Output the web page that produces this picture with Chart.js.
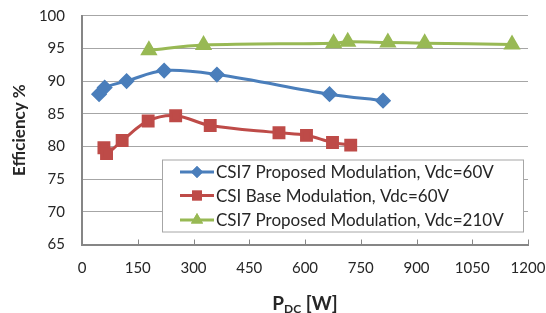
<!DOCTYPE html>
<html><head><meta charset="utf-8">
<script src="https://cdn.jsdelivr.net/npm/chart.js@4/dist/chart.umd.min.js"></script>
<style>html,body{margin:0;padding:0;background:#fff}#wrap{width:546px;height:313px;position:relative}</style>
</head><body><div id="wrap"><canvas id="c" width="546" height="313"></canvas></div>
<script>
const seriesLabels = ["CSI7 Proposed Modulation, Vdc=60V","CSI Base Modulation, Vdc=60V","CSI7 Proposed Modulation, Vdc=210V"];
const blueX = [46, 61, 120, 221, 363, 666, 810];
const blueY = [88.0, 89.0, 90.0, 91.6, 91.0, 88.0, 87.0];
const redX = [59, 66, 108, 178, 252, 345, 530, 604, 674, 723];
const redY = [79.8, 78.9, 80.9, 83.9, 84.7, 83.2, 82.1, 81.7, 80.6, 80.2];
const greenX = [180, 327, 677, 715, 823, 922, 1157];
const greenY = [94.7, 95.5, 95.8, 96.0, 95.9, 95.8, 95.6];
const xTicks = [0,150,300,450,600,750,900,1050,1200];
const yTicks = [65,70,75,80,85,90,95,100];
const colors = ["#4A7EBB","#BE4B48","#98B954"];
const shapes = ["rectRot","rect","triangle"];
const radii = [6,7,7];

function pts(xs, ys){ return xs.map((x,i)=>({x:x,y:ys[i]})); }
const sets = [pts(blueX,blueY), pts(redX,redY), pts(greenX,greenY)];

const FONT = "Lato, 'Open Sans', sans-serif";

const legendPlugin = {
  id:'boxLegend',
  beforeDatasetsDraw(chart){
    const ctx=chart.ctx, xs=chart.scales.x, ca=chart.chartArea;
    ctx.save();
    ctx.strokeStyle="#868686"; ctx.lineWidth=1;
    xTicks.forEach(v=>{
      if(v===0) return;
      const px=Math.round(xs.getPixelForValue(v))+0.5;
      ctx.beginPath(); ctx.moveTo(px,ca.bottom); ctx.lineTo(px,ca.bottom-5); ctx.stroke();
    });
    ctx.restore();
  },
  afterDraw(chart){
    const ctx = chart.ctx;
    const L=162, T=159.5, R=524, B=232.5;
    ctx.save();
    ctx.fillStyle="#fff";
    ctx.fillRect(L,T,R-L,B-T);
    ctx.strokeStyle="#A6A6A6"; ctx.lineWidth=1;
    ctx.strokeRect(L+0.5,T+0.5,R-L-1,B-T-1);
    const rows=[172,195.5,220];
    chart.data.datasets.forEach((ds,i)=>{
      const y=rows[i];
      ctx.strokeStyle=ds.borderColor; ctx.lineWidth=3;
      ctx.beginPath(); ctx.moveTo(180,y); ctx.lineTo(214,y); ctx.stroke();
      ctx.fillStyle=ds.borderColor;
      Chart.helpers.drawPoint(ctx,{pointStyle:ds.pointStyle,radius:ds.pointRadius,borderWidth:0},197,y);
      ctx.fill();
      ctx.fillStyle="#262626";
      ctx.font="17px "+FONT;
      ctx.textBaseline="middle"; ctx.textAlign="left";
      ctx.fillText(ds.label,216,y+1);
    });
    // x axis title with subscript
    ctx.fillStyle="#262626";
    ctx.textBaseline="alphabetic";
    ctx.font="bold 19px "+FONT;
    const p="P", w1=ctx.measureText(p).width;
    ctx.font="bold 12px "+FONT;
    const sub="DC", w2=ctx.measureText(sub).width;
    ctx.font="bold 19px "+FONT;
    const rest=" [W]", w3=ctx.measureText(rest).width;
    let x0=305-(w1+w2+w3)/2, base=310;
    ctx.fillText(p,x0,base);
    ctx.font="bold 12px "+FONT;
    ctx.fillText(sub,x0+w1,base+3);
    ctx.font="bold 19px "+FONT;
    ctx.fillText(rest,x0+w1+w2,base);
    ctx.restore();
  }
};

new Chart(document.getElementById('c'),{
  type:'scatter',
  data:{datasets: sets.map((d,i)=>({
    label: seriesLabels[i], data:d, showLine:true,
    borderColor:colors[i], backgroundColor:colors[i],
    pointBackgroundColor:colors[i], pointBorderColor:colors[i],
    pointStyle:shapes[i], pointRadius:radii[i], borderWidth:3, tension:0.35
  }))},
  options:{
    responsive:false, animation:false,
    layout:{padding:{left:0,right:18,top:15.7,bottom:0}},
    plugins:{legend:{display:false},tooltip:{enabled:false}},
    scales:{
      x:{type:'linear',min:0,max:1200,
        afterBuildTicks(s){ s.ticks = xTicks.map(v=>({value:v})); },
        afterFit(s){ s.height=68.5; s.paddingLeft=0; s.paddingRight=0; },
        grid:{display:false,drawTicks:false},
        border:{color:"#868686",width:2},
        ticks:{color:"#262626",font:{family:FONT,size:15},padding:15,maxRotation:0,autoSkip:false,callback:v=>String(v)}
      },
      y:{min:65,max:100,
        afterBuildTicks(s){ s.ticks = yTicks.map(v=>({value:v})); },
        afterFit(s){ s.width=82; s.paddingTop=0; s.paddingBottom=0; },
        grid:{color:"#A6A6A6",lineWidth:1,drawTicks:false},
        border:{color:"#868686",width:2},
        ticks:{color:"#262626",font:{family:FONT,size:15},padding:17,callback:v=>String(v)},
        title:{display:true,text:"Efficiency %",color:"#262626",font:{family:FONT,size:17,weight:'bold'},padding:{top:9,bottom:0}}
      }
    }
  },
  plugins:[legendPlugin]
});
</script></body></html>
